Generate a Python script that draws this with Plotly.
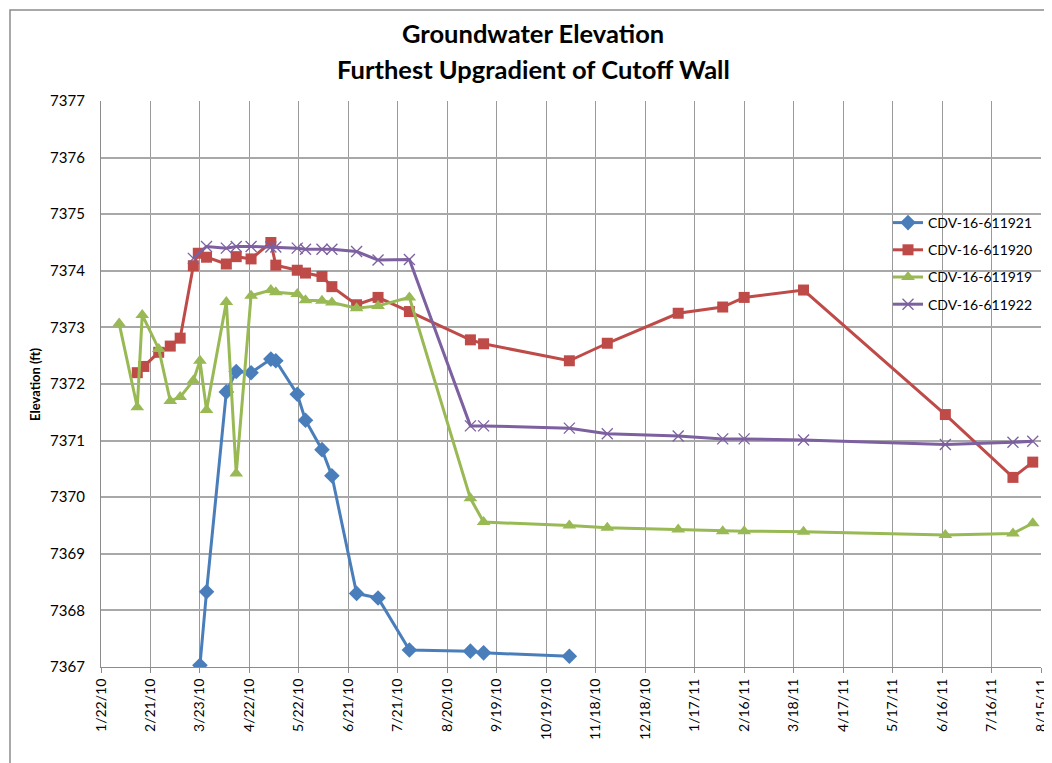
import plotly.graph_objects as go

# ---- data ----
dates_921 = ["2010-03-23", "2010-03-27", "2010-04-08", "2010-04-14", "2010-04-23", "2010-05-05",
             "2010-05-08", "2010-05-21", "2010-05-26", "2010-06-05", "2010-06-11", "2010-06-26",
             "2010-07-09", "2010-07-28", "2010-09-03", "2010-09-11", "2010-11-02"]
elev_921 = [7367.03, 7368.33, 7371.86, 7372.22, 7372.20, 7372.44, 7372.41, 7371.82, 7371.36,
            7370.84, 7370.38, 7368.30, 7368.22, 7367.30, 7367.28, 7367.25, 7367.19]

dates_920 = ["2010-02-13", "2010-02-17", "2010-02-26", "2010-03-05", "2010-03-11", "2010-03-19",
             "2010-03-22", "2010-03-27", "2010-04-08", "2010-04-14", "2010-04-23", "2010-05-05",
             "2010-05-08", "2010-05-21", "2010-05-26", "2010-06-05", "2010-06-11", "2010-06-26",
             "2010-07-09", "2010-07-28", "2010-09-03", "2010-09-11", "2010-11-02", "2010-11-25",
             "2011-01-07", "2011-02-03", "2011-02-16", "2011-03-24", "2011-06-18", "2011-07-29",
             "2011-08-10"]
elev_920 = [7372.20, 7372.31, 7372.56, 7372.67, 7372.81, 7374.09, 7374.31, 7374.24, 7374.12,
            7374.25, 7374.21, 7374.50, 7374.10, 7374.01, 7373.96, 7373.90, 7373.72, 7373.40,
            7373.53, 7373.28, 7372.78, 7372.71, 7372.41, 7372.72, 7373.25, 7373.36, 7373.53,
            7373.66, 7371.46, 7370.35, 7370.62]

dates_919 = ["2010-02-02", "2010-02-13", "2010-02-16", "2010-02-26", "2010-03-05", "2010-03-11",
             "2010-03-19", "2010-03-23", "2010-03-27", "2010-04-08", "2010-04-14", "2010-04-23",
             "2010-05-05", "2010-05-08", "2010-05-21", "2010-05-26", "2010-06-05", "2010-06-11",
             "2010-06-26", "2010-07-09", "2010-07-28", "2010-09-03", "2010-09-11", "2010-11-02",
             "2010-11-25", "2011-01-07", "2011-02-03", "2011-02-16", "2011-03-24", "2011-06-18",
             "2011-07-29", "2011-08-10"]
elev_919 = [7373.07, 7371.59, 7373.22, 7372.62, 7371.70, 7371.77, 7372.06, 7372.41, 7371.54,
            7373.45, 7370.42, 7373.56, 7373.66, 7373.62, 7373.59, 7373.48, 7373.47, 7373.44,
            7373.34, 7373.38, 7373.53, 7369.98, 7369.56, 7369.50, 7369.46, 7369.43, 7369.40,
            7369.40, 7369.39, 7369.33, 7369.36, 7369.54]

dates_922 = ["2010-03-19", "2010-03-27", "2010-04-08", "2010-04-14", "2010-04-23", "2010-05-05",
             "2010-05-08", "2010-05-21", "2010-05-26", "2010-06-05", "2010-06-11", "2010-06-26",
             "2010-07-09", "2010-07-28", "2010-09-03", "2010-09-11", "2010-11-02", "2010-11-25",
             "2011-01-07", "2011-02-03", "2011-02-16", "2011-03-24", "2011-06-18", "2011-07-29",
             "2011-08-10"]
elev_922 = [7374.22, 7374.43, 7374.40, 7374.43, 7374.43, 7374.42, 7374.42, 7374.40, 7374.38,
            7374.38, 7374.38, 7374.34, 7374.19, 7374.20, 7371.26, 7371.26, 7371.22, 7371.12,
            7371.08, 7371.03, 7371.03, 7371.01, 7370.93, 7370.97, 7370.99]

tick_dates = ["2010-01-22", "2010-02-21", "2010-03-23", "2010-04-22", "2010-05-22", "2010-06-21",
              "2010-07-21", "2010-08-20", "2010-09-19", "2010-10-19", "2010-11-18", "2010-12-18",
              "2011-01-17", "2011-02-16", "2011-03-18", "2011-04-17", "2011-05-17", "2011-06-16",
              "2011-07-16", "2011-08-15"]
tick_labels = ["1/22/10", "2/21/10", "3/23/10", "4/22/10", "5/22/10", "6/21/10", "7/21/10",
               "8/20/10", "9/19/10", "10/19/10", "11/18/10", "12/18/10", "1/17/11", "2/16/11",
               "3/18/11", "4/17/11", "5/17/11", "6/16/11", "7/16/11", "8/15/11"]
y_ticks = list(range(7367, 7378))

FONT = "Lato, 'Open Sans', sans-serif"

fig = go.Figure()
series = [
    ("CDV-16-611921", dates_921, elev_921, "#4A7EBB", "diamond", 12, 0),
    ("CDV-16-611920", dates_920, elev_920, "#BE4B48", "square", 11, 0),
    ("CDV-16-611919", dates_919, elev_919, "#98B954", "triangle-up", 12, 0),
    ("CDV-16-611922", dates_922, elev_922, "#7D60A0", "x-thin", 11, 1.3),
]
for i, (name, xs, ys, col, sym, size, lw) in enumerate(series):
    fig.add_trace(go.Scatter(
        x=xs, y=ys, name=name, mode="lines+markers",
        line=dict(color=col, width=3),
        marker=dict(symbol=sym, size=size, color=col, line=dict(color=col, width=lw)),
        legendgroup=f"g{i}",
    ))

# page body has an 8px margin; figure is sized so the plot area lands at x 101-1041, y 101-667
fig.update_layout(
    width=1044, height=755,
    margin=dict(l=93, r=11, t=93, b=96),
    paper_bgcolor="white", plot_bgcolor="white",
    font=dict(family=FONT, color="#000000"),
    showlegend=True,
    legend=dict(x=(888 - 101) / 940, y=(667 - 207) / 566, xanchor="left", yanchor="top",
                bgcolor="rgba(0,0,0,0)", font=dict(size=14, family=FONT),
                tracegroupgap=6, itemwidth=30),
    xaxis=dict(
        type="date", range=["2010-01-22", "2011-08-15"],
        tickvals=tick_dates, ticktext=tick_labels, tickangle=-90,
        tickfont=dict(size=14, family=FONT),
        showgrid=True, gridcolor="#9a9a9a", gridwidth=1.2,
        showline=True, linecolor="#8c8c8c", linewidth=1.2,
        ticks="outside", ticklen=5, tickcolor="#8c8c8c",
        zeroline=False, mirror=False, automargin=False,
    ),
    yaxis=dict(
        range=[7367, 7377], tickvals=y_ticks, ticktext=[str(v) for v in y_ticks],
        tickfont=dict(size=15, family=FONT),
        showgrid=True, gridcolor="#a8a8a8", gridwidth=1.5,
        showline=True, linecolor="#8c8c8c", linewidth=1.2,
        ticks="", ticklabelstandoff=12,
        zeroline=False, automargin=False,
    ),
    annotations=[
        dict(text="<b>Groundwater Elevation</b>", xref="paper", yref="paper",
             x=(533 - 101) / 940, y=(667 - 33) / 566, xanchor="center", yanchor="middle",
             showarrow=False, font=dict(size=25.5, family=FONT)),
        dict(text="<b>Furthest Upgradient of Cutoff Wall</b>", xref="paper", yref="paper",
             x=(533 - 101) / 940, y=(667 - 69) / 566, xanchor="center", yanchor="middle",
             showarrow=False, font=dict(size=25.5, family=FONT)),
        dict(text="<b>Elevation (ft)</b>", xref="paper", yref="paper",
             x=(35 - 101) / 940, y=0.5, xanchor="center", yanchor="middle", textangle=-90,
             showarrow=False, font=dict(size=13, family=FONT)),
    ],
    shapes=[
        dict(type="rect", xref="paper", yref="paper",
             x0=(10 - 101) / 940, x1=(1070 - 101) / 940,
             y0=(667 - 780) / 566, y1=(667 - 10) / 566,
             line=dict(color="#8c8c8c", width=1.5), fillcolor="rgba(0,0,0,0)", layer="below"),
    ],
)

fig.write_html("out.html")
